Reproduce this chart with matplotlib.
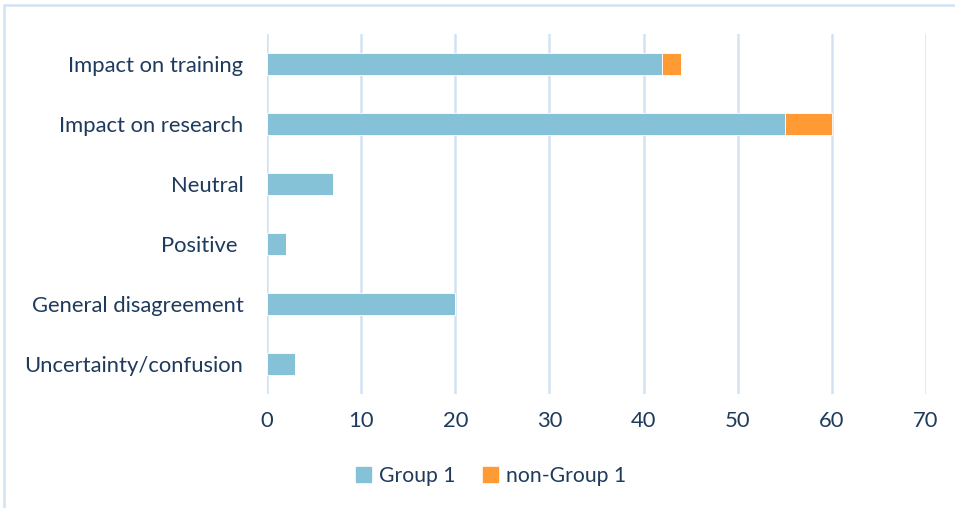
import matplotlib
matplotlib.use("Agg")
import matplotlib.pyplot as plt
import matplotlib.patches as mpatches

# ── data ──────────────────────────────────────────────────────────────────────
categories = ["Impact on training", "Impact on research", "Neutral",
              "Positive ", "General disagreement", "Uncertainty/confusion"]
group1     = [42, 55, 7, 2, 20, 3]
non_group1 = [2, 5, 0, 0, 0, 0]
x_ticks    = [0, 10, 20, 30, 40, 50, 60, 70]

# ── style ─────────────────────────────────────────────────────────────────────
BLUE   = "#85C2D7"
ORANGE = "#FF9A35"
GRID   = "#D3E2F1"
TEXT   = "#1E3A5C"
FS     = 15.8

plt.rcParams["font.family"] = ["Lato", "DejaVu Sans"]

fig = plt.figure(figsize=(9.55, 5.08), dpi=100)
ax = fig.add_axes([267 / 955, 1 - 394 / 508, (926 - 267) / 955, 360 / 508])

ypos = list(range(len(categories)))
ax.barh(ypos, group1, height=0.37, color=BLUE, edgecolor="white",
        linewidth=0.6, label="Group 1", zorder=3)
ax.barh(ypos, non_group1, left=group1, height=0.37, color=ORANGE,
        edgecolor="white", linewidth=0.6, label="non-Group 1", zorder=3)

ax.set_yticks(ypos)
ax.set_yticklabels(categories)
ax.set_ylim(len(categories) - 0.5, -0.5)
ax.set_xlim(0, 70)
ax.set_xticks(x_ticks)

ax.grid(axis="x", color=GRID, linewidth=1.8, zorder=0)
ax.grid(axis="y", visible=False)
for s in ax.spines.values():
    s.set_visible(False)
ax.tick_params(axis="both", length=0, labelsize=FS, colors=TEXT)
ax.tick_params(axis="y", pad=17)
ax.tick_params(axis="x", pad=12)

handles = [mpatches.Patch(color=BLUE, label="Group 1"),
           mpatches.Patch(color=ORANGE, label="non-Group 1")]
fig.legend(handles=handles, loc="center", bbox_to_anchor=(491 / 955, 1 - 476 / 508),
           ncol=2, frameon=False, fontsize=15.2, labelcolor=TEXT,
           handlelength=0.7, handleheight=0.7, handletextpad=0.4,
           columnspacing=1.3)

# outer chart border (top/left visible, right/bottom cropped)
fig.patches.append(mpatches.Rectangle((3.5 / 955, -0.1), 1.2, 1 - 5.5 / 508 + 0.1,
                                      transform=fig.transFigure, fill=False,
                                      edgecolor=GRID, linewidth=1.8))

fig.savefig("out.png", dpi=100)
